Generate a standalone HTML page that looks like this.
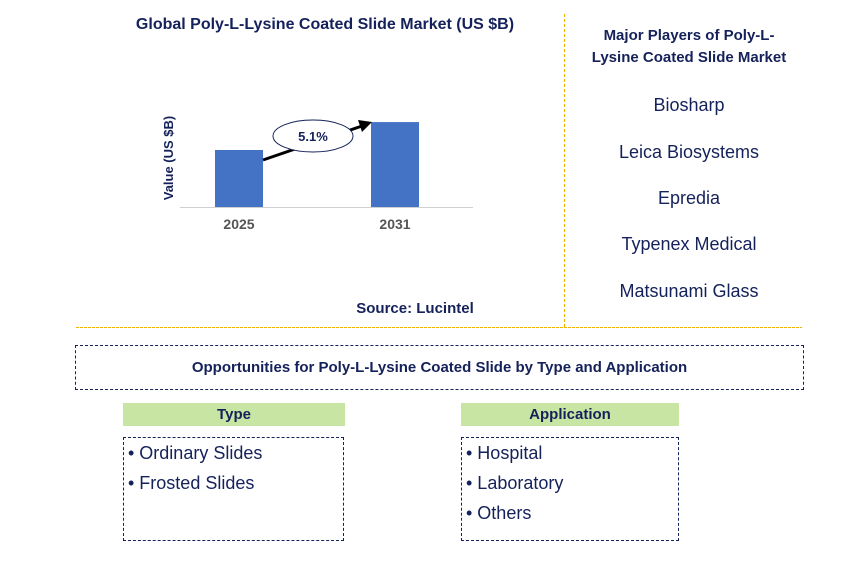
<!DOCTYPE html>
<html><head><meta charset="utf-8"><style>
body{margin:0;width:868px;height:562px;background:#fff;font-family:"Liberation Sans",sans-serif;position:relative;overflow:hidden}
.a{position:absolute}
.navy{color:#15215a;font-weight:bold}
.pl{position:absolute;left:566px;width:246px;text-align:center;font-size:18px;color:#15215a}
.li{font-size:18px;color:#15215a;line-height:30px}
</style></head><body>
<div class="a navy" style="left:100px;top:16px;width:450px;text-align:center;font-size:16px">Global Poly-L-Lysine Coated Slide Market (US $B)</div>
<svg class="a" style="left:0;top:0" width="560" height="300">
<text transform="translate(173,158) rotate(-90)" text-anchor="middle" font-size="13" font-weight="bold" fill="#15215a" font-family="Liberation Sans">Value (US $B)</text>
<line x1="180" y1="207.5" x2="473" y2="207.5" stroke="#d0d0d0" stroke-width="1"/>
<g id="bars"></g>
<line x1="263" y1="160" x2="362" y2="126" stroke="#000" stroke-width="3"/>
<polygon points="372,122 358,120 362,132" fill="#000"/>
<ellipse cx="313" cy="136" rx="40" ry="16" fill="#fff" stroke="#15215a" stroke-width="1"/>
<text x="313" y="141" text-anchor="middle" font-size="13" font-weight="bold" fill="#15215a" font-family="Liberation Sans">5.1%</text>
</svg>
<script>
const categories=["2025","2031"];
const values=[1.0,1.49];
const g=document.getElementById('bars');
const ns="http://www.w3.org/2000/svg";
const base=207, scale=57, x0=215, step=156, bw=48;
categories.forEach((c,i)=>{
 const r=document.createElementNS(ns,'rect');
 const h=values[i]*scale;
 r.setAttribute('x',x0+i*step);r.setAttribute('y',base-h);r.setAttribute('width',bw);r.setAttribute('height',h);r.setAttribute('fill','#4472c4');
 
 
 g.appendChild(r);
 const t=document.createElementNS(ns,'text');
 t.setAttribute('x',x0+i*step+bw/2);t.setAttribute('y',229);t.setAttribute('text-anchor','middle');t.setAttribute('font-size','14');t.setAttribute('font-weight','bold');t.setAttribute('fill','#555');t.setAttribute('font-family','Liberation Sans');
 t.textContent=c;
 
 
 g.appendChild(t);
});
</script>
<div class="a navy" style="left:330px;top:300px;width:170px;text-align:center;font-size:15px">Source: Lucintel</div>
<div class="a" style="left:564px;top:14px;width:1px;height:313px;background:repeating-linear-gradient(to bottom,#f0b400 0 3px,transparent 3px 5px)"></div>
<div class="a" style="left:76px;top:327px;width:726px;height:1px;background:repeating-linear-gradient(to right,#f0b400 0 3px,transparent 3px 4px)"></div>
<div class="a navy" style="left:586px;top:25px;width:206px;text-align:center;font-size:15px;line-height:22px">Major Players of Poly-L-<br>Lysine Coated Slide Market</div>
<div class="pl" style="top:95px">Biosharp</div>
<div class="pl" style="top:142px">Leica Biosystems</div>
<div class="pl" style="top:188px">Epredia</div>
<div class="pl" style="top:234px">Typenex Medical</div>
<div class="pl" style="top:281px">Matsunami Glass</div>
<div class="a navy" style="left:75px;top:345px;width:727px;height:43px;border:1px dashed #15215a;text-align:center;line-height:43px;font-size:15px">Opportunities for Poly-L-Lysine Coated Slide by Type and Application</div>
<div class="a navy" style="left:123px;top:403px;width:222px;height:23px;background:#c9e5a3;text-align:center;line-height:23px;font-size:15px">Type</div>
<div class="a navy" style="left:461px;top:403px;width:218px;height:23px;background:#c9e5a3;text-align:center;line-height:23px;font-size:15px">Application</div>
<div class="a" style="left:123px;top:437px;width:221px;height:104px;border:1px dashed #15215a;padding:0 4px;box-sizing:border-box">
<div class="li">• Ordinary Slides</div>
<div class="li">• Frosted Slides</div></div>
<div class="a" style="left:461px;top:437px;width:218px;height:104px;border:1px dashed #15215a;padding:0 4px;box-sizing:border-box">
<div class="li">• Hospital</div>
<div class="li">• Laboratory</div>
<div class="li">• Others</div></div>
</body></html>
